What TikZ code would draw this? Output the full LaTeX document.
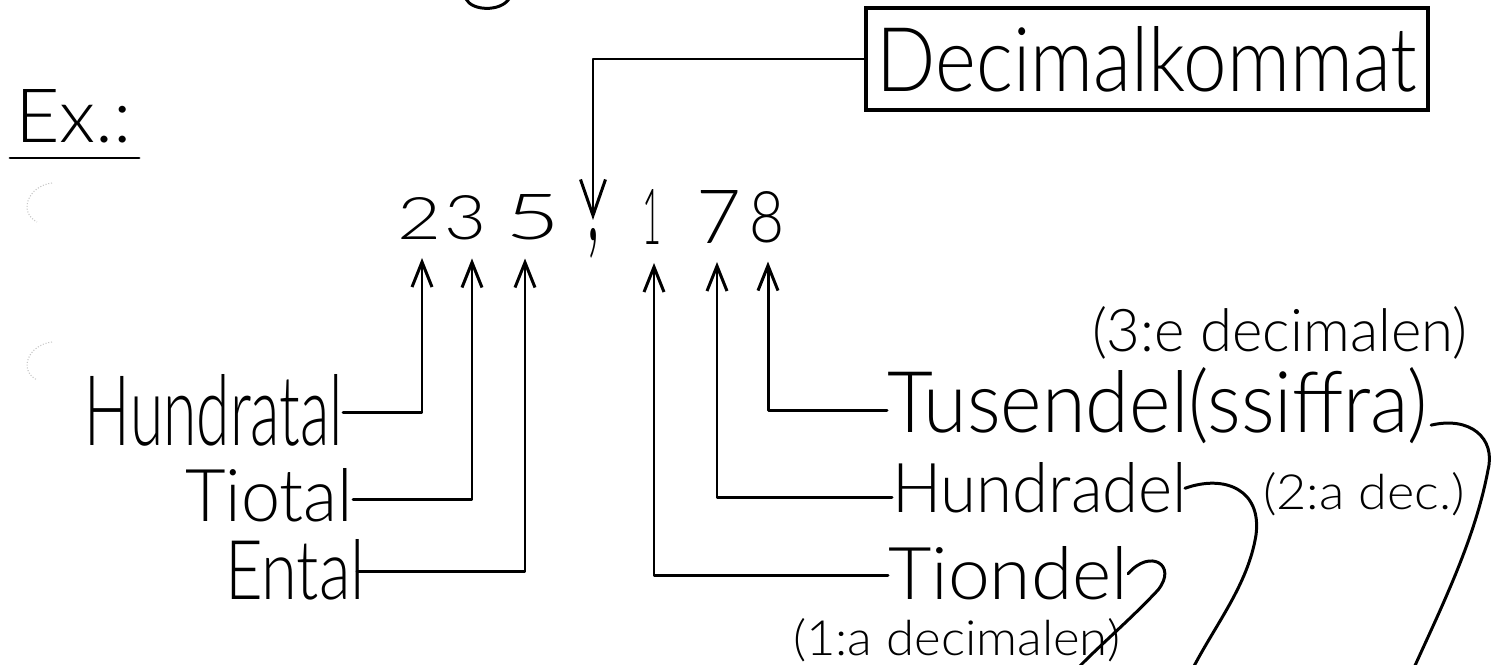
\documentclass[tikz,border=0pt]{standalone}
\usepackage{fontspec}
\setmainfont{Lato}[UprightFont=* Light]
\usetikzlibrary{arrows.meta}
\newlength\pxu
\setlength\pxu{0.02cm}
% text squeezed into a given width and height (in drawing units)
\newcommand\hw[3]{\resizebox{#1\pxu}{#2\pxu}{#3}}
\begin{document}
\begin{tikzpicture}[x=0.02cm,y=-0.02cm,
  ink/.style={line width=1.7pt, line cap=round, line join=round},
  arr/.style={ink, -{Straight Barb[length=0.5cm,width=0.4cm]}},
  bigarr/.style={ink, -{Straight Barb[length=0.72cm,width=0.5cm]}},
  lab/.style={inner sep=0pt, outer sep=0pt},
  dig/.style={inner xsep=0pt, inner ysep=18\pxu, outer sep=0pt, anchor=base},
  punch/.style={gray!45, line width=0.6pt, densely dotted}]

\fill[white] (0,0) rectangle (1502,665);
\useasboundingbox (0,0) rectangle (1502,665);

% heading
\node[lab, anchor=base west] (ex) at (15,143) {\hw{117}{53}{Ex.:}};
\draw[ink] ([xshift=-5\pxu, yshift=-15\pxu]ex.base west) -- ([xshift=7\pxu, yshift=-15\pxu]ex.base east);

% the number 235,178
\node[dig] (d2) at (420,240) {\hw{44}{42}{2}};
\node[dig] (d3) at (466,240) {\hw{42}{44}{3}};
\node[dig] (d5) at (533,240) {\hw{55}{45}{5}};
\node[lab, anchor=north, inner ysep=8\pxu] (comma) at (593,220) {\resizebox*{14\pxu}{30\pxu}{,}};
\node[dig] (d1) at (652,245) {\hw{19}{55}{1}};
\node[dig] (d7) at (719,244) {\hw{45}{53}{7}};
\node[dig] (d8) at (767,243) {\hw{35}{51}{8}};

% boxed label for the decimal comma
\node[draw, line width=2pt, minimum width=562\pxu, minimum height=102\pxu, inner sep=0pt]
  (box) at (1147,59) {\hw{540}{65}{Decimalkommat}};
\draw[bigarr] (box.west) -| (comma.north);

% integer places
\node[lab, anchor=base west] (hundratal) at (85,446) {\hw{258}{71}{Hundratal}};
\node[lab, anchor=base west] (tiotal) at (185,521) {\hw{168}{53}{Tiotal}};
\node[lab, anchor=base west] (ental) at (225,600) {\hw{140}{60}{Ental}};
\draw[arr] ([yshift=-2\pxu]hundratal.east) -| ([xshift=2\pxu]d2.south);
\draw[arr] ([yshift=-5\pxu]tiotal.east) -| ([xshift=6\pxu]d3.south);
\draw[arr] ([xshift=-8\pxu, yshift=-1\pxu]ental.east) -| ([xshift=-8\pxu]d5.south);

% decimal places
\node[lab, anchor=base west] (tusendel) at (887,433) {\hw{541}{65}{Tusendel(ssiffra)}};
\node[lab, anchor=base west] (hundradel) at (892,513) {\hw{295}{50}{Hundradel}};
\node[lab, anchor=base west] (tiondel) at (888,600) {\hw{240}{53}{Tiondel}};
\draw[arr] ([yshift=-4\pxu]tusendel.west) -| ([xshift=1\pxu]d8.south);
\draw[arr] ([yshift=-9\pxu]hundradel.west) -| ([xshift=-2\pxu]d7.south);
\draw[arr] ([yshift=-2\pxu]tiondel.west) -| ([xshift=2\pxu]d1.south);

% ordinal notes
\node[lab, anchor=base west] (n3) at (1092,352) {\hw{375}{45}{(3:e decimalen)}};
\node[lab, anchor=base west] (n2) at (1263,510) {\hw{202}{37}{(2:a dec.)}};
\node[lab, anchor=base west] (n1) at (793,655) {\hw{327}{37}{(1:a decimalen)}};

% hand-drawn brackets leading down the page
\coordinate (t3) at (1413,670);
\coordinate (t2) at (1192,670);
\coordinate (t1) at (1076,670);
\draw[ink] ([xshift=3\pxu, yshift=-19\pxu]tusendel.east) .. controls (1470,416) and (1496,438) .. (1488,470)
  .. controls (1475,540) and (1440,610) .. (t3);
\draw[ink] ([xshift=-2\pxu]hundradel.east) .. controls (1225,474) and (1262,490) .. (1256,535)
  .. controls (1248,585) and (1215,625) .. (t2);
\draw[ink] (tiondel.east) .. controls (1150,548) and (1178,565) .. (1158,590)
  .. controls (1130,620) and (1100,645) .. (t1);

% stroke of a letter from the line above
\draw[ink] (466,-1) .. controls (472,11) and (500,12) .. (509,-1);

% punch-hole shadows
\draw[punch] (52,183) .. controls (28,186) and (18,212) .. (37,222);
\draw[punch] (52,342) .. controls (28,345) and (18,370) .. (37,380);
\end{tikzpicture}
\end{document}
